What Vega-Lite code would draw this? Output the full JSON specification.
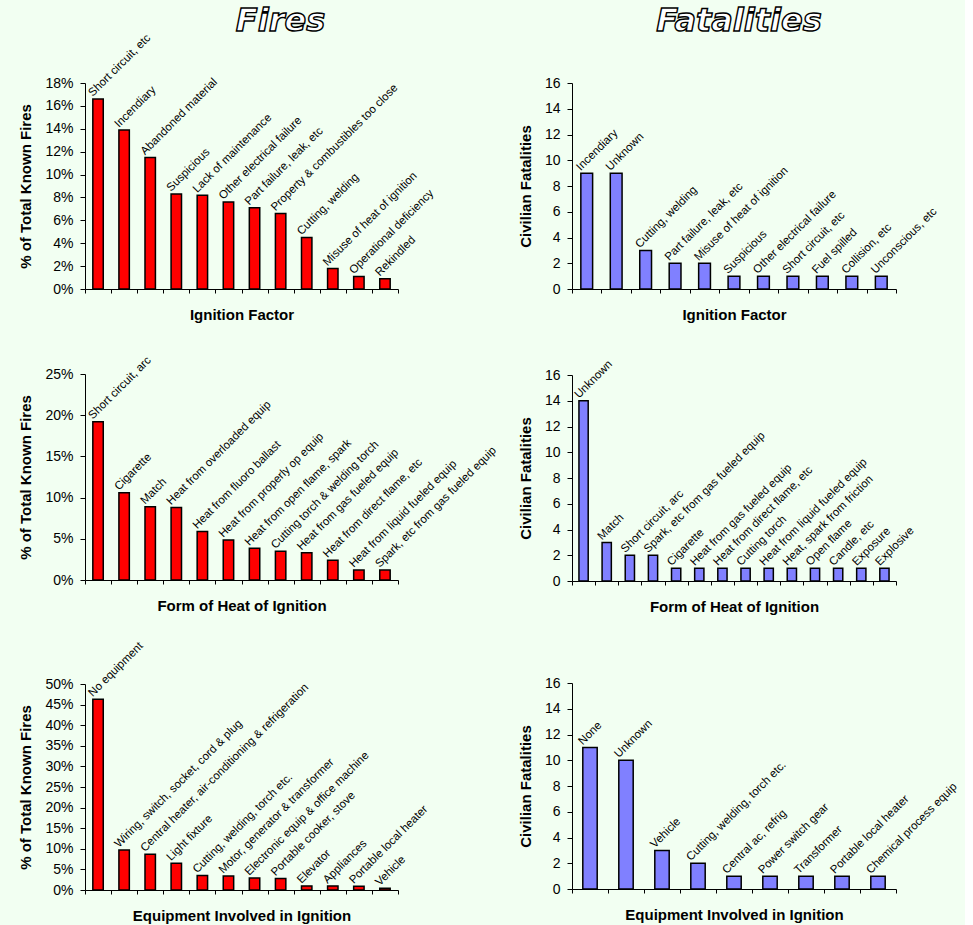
{
  "$schema": "https://vega.github.io/schema/vega-lite/v6.json",
  "background": "#F2FFF2",
  "padding": {"left": 18, "top": 5, "right": 5, "bottom": 5},
  "datasets": {
    "fires_if": [
      {"c": "Short circuit, etc", "v": 0.166},
      {"c": "Incendiary", "v": 0.139},
      {"c": "Abandoned material", "v": 0.115},
      {"c": "Suspicious", "v": 0.083},
      {"c": "Lack of maintenance", "v": 0.082},
      {"c": "Other electrical failure", "v": 0.076},
      {"c": "Part failure, leak, etc", "v": 0.071},
      {"c": "Property & combustibles too close", "v": 0.066},
      {"c": "Cutting, welding", "v": 0.045},
      {"c": "Misuse of heat of ignition", "v": 0.018},
      {"c": "Operational deficiency", "v": 0.011},
      {"c": "Rekindled", "v": 0.009}
    ],
    "fat_if": [
      {"c": "Incendiary", "v": 9},
      {"c": "Unknown", "v": 9},
      {"c": "Cutting, welding", "v": 3},
      {"c": "Part failure, leak, etc", "v": 2},
      {"c": "Misuse of heat of ignition", "v": 2},
      {"c": "Suspicious", "v": 1},
      {"c": "Other electrical failure", "v": 1},
      {"c": "Short circuit, etc", "v": 1},
      {"c": "Fuel spilled", "v": 1},
      {"c": "Collision, etc", "v": 1},
      {"c": "Unconscious, etc", "v": 1}
    ],
    "fires_heat": [
      {"c": "Short circuit, arc", "v": 0.192},
      {"c": "Cigarette", "v": 0.106},
      {"c": "Match", "v": 0.089},
      {"c": "Heat from overloaded equip", "v": 0.088},
      {"c": "Heat from fluoro ballast", "v": 0.059},
      {"c": "Heat from properly op equip", "v": 0.0485},
      {"c": "Heat from open flame, spark", "v": 0.0385},
      {"c": "Cutting torch & welding torch", "v": 0.035},
      {"c": "Heat from gas fueled equip", "v": 0.033},
      {"c": "Heat from direct flame, etc", "v": 0.024},
      {"c": "Heat from liquid fueled equip", "v": 0.012},
      {"c": "Spark, etc from gas fueled equip", "v": 0.012}
    ],
    "fat_heat": [
      {"c": "Unknown", "v": 14},
      {"c": "Match", "v": 3},
      {"c": "Short circuit, arc", "v": 2},
      {"c": "Spark, etc from gas fueled equip", "v": 2},
      {"c": "Cigarette", "v": 1},
      {"c": "Heat from gas fueled equip", "v": 1},
      {"c": "Heat from direct flame, etc", "v": 1},
      {"c": "Cutting torch", "v": 1},
      {"c": "Heat from liquid fueled equip", "v": 1},
      {"c": "Heat, spark from friction", "v": 1},
      {"c": "Open flame", "v": 1},
      {"c": "Candle, etc", "v": 1},
      {"c": "Exposure", "v": 1},
      {"c": "Explosive", "v": 1}
    ],
    "fires_equip": [
      {"c": "No equipment", "v": 0.463},
      {"c": "Wiring, switch, socket, cord & plug", "v": 0.097},
      {"c": "Central heater, air-conditioning & refrigeration", "v": 0.087},
      {"c": "Light fixture", "v": 0.065},
      {"c": "Cutting, welding, torch etc.", "v": 0.035},
      {"c": "Motor, generator & transformer", "v": 0.034},
      {"c": "Electronic equip & office machine", "v": 0.029},
      {"c": "Portable cooker, stove", "v": 0.028},
      {"c": "Elevator", "v": 0.010},
      {"c": "Appliances", "v": 0.010},
      {"c": "Portable local heater", "v": 0.009},
      {"c": "Vehicle", "v": 0.004}
    ],
    "fat_equip": [
      {"c": "None", "v": 11},
      {"c": "Unknown", "v": 10},
      {"c": "Vehicle", "v": 3},
      {"c": "Cutting, welding, torch etc.", "v": 2},
      {"c": "Central ac, refrig", "v": 1},
      {"c": "Power switch gear", "v": 1},
      {"c": "Transformer", "v": 1},
      {"c": "Portable local heater", "v": 1},
      {"c": "Chemical process equip", "v": 1}
    ]
  },
  "hconcat": [
    {
      "vconcat": [
        {
          "title": {"text": "Fires", "color": "#ffffff", "font": "DejaVu Sans", "fontSize": 32, "fontStyle": "italic", "fontWeight": "bold", "style": "outlined", "offset": -6, "dx": 39},
          "width": 313, "height": 206,
          "data": {"name": "fires_if"},
          "encoding": {
            "x": {"field": "c", "type": "nominal", "sort": null, "scale": {"paddingInner": 0, "paddingOuter": 0}, "axis": {"title": "Ignition Factor"}},
            "y": {"field": "v", "type": "quantitative", "scale": {"domain": [0, 0.18]}, "axis": {"title": "% of Total Known Fires", "values": [0, 0.02, 0.04, 0.06, 0.08, 0.1, 0.12, 0.14, 0.16, 0.18], "format": ".0%"}}
          },
          "layer": [
            {"mark": {"type": "bar", "width": {"band": 0.4}, "color": "#FF0000", "stroke": "#000000", "strokeWidth": 1.5}},
            {"mark": {"type": "text", "angle": -45, "align": "left", "baseline": "alphabetic", "yOffset": -2},
             "encoding": {"text": {"field": "c"}, "x": {"field": "c", "type": "nominal", "sort": null, "bandPosition": 0.3, "axis": {"title": "Ignition Factor"}}}}
          ]
        },
        {
          "vconcat": [
            {
              "width": 313, "height": 206,
              "data": {"name": "fires_heat"},
              "encoding": {
                "x": {"field": "c", "type": "nominal", "sort": null, "scale": {"paddingInner": 0, "paddingOuter": 0}, "axis": {"title": "Form of Heat of Ignition"}},
                "y": {"field": "v", "type": "quantitative", "scale": {"domain": [0, 0.25]}, "axis": {"title": "% of Total Known Fires", "values": [0, 0.05, 0.1, 0.15, 0.2, 0.25], "format": ".0%"}}
              },
              "layer": [
                {"mark": {"type": "bar", "width": {"band": 0.4}, "color": "#FF0000", "stroke": "#000000", "strokeWidth": 1.5}},
                {"mark": {"type": "text", "angle": -45, "align": "left", "baseline": "alphabetic", "yOffset": -2},
                 "encoding": {"text": {"field": "c"}, "x": {"field": "c", "type": "nominal", "sort": null, "bandPosition": 0.3, "axis": {"title": "Form of Heat of Ignition"}}}}
              ]
            },
            {
              "width": 313, "height": 206,
              "data": {"name": "fires_equip"},
              "encoding": {
                "x": {"field": "c", "type": "nominal", "sort": null, "scale": {"paddingInner": 0, "paddingOuter": 0}, "axis": {"title": "Equipment Involved in Ignition"}},
                "y": {"field": "v", "type": "quantitative", "scale": {"domain": [0, 0.5]}, "axis": {"title": "% of Total Known Fires", "values": [0, 0.05, 0.1, 0.15, 0.2, 0.25, 0.3, 0.35, 0.4, 0.45, 0.5], "format": ".0%"}}
              },
              "layer": [
                {"mark": {"type": "bar", "width": {"band": 0.4}, "color": "#FF0000", "stroke": "#000000", "strokeWidth": 1.5}},
                {"mark": {"type": "text", "angle": -45, "align": "left", "baseline": "alphabetic", "yOffset": -2},
                 "encoding": {"text": {"field": "c"}, "x": {"field": "c", "type": "nominal", "sort": null, "bandPosition": 0.3, "axis": {"title": "Equipment Involved in Ignition"}}}}
              ]
            }
          ],
          "spacing": 26
        }
      ],
      "spacing": 31
    },
    {
      "vconcat": [
        {
          "title": {"text": "Fatalities", "color": "#ffffff", "font": "DejaVu Sans", "fontSize": 32, "fontStyle": "italic", "fontWeight": "bold", "style": "outlined", "offset": 38, "dx": 5},
          "width": 324, "height": 206,
          "data": {"name": "fat_if"},
          "encoding": {
            "x": {"field": "c", "type": "nominal", "sort": null, "scale": {"paddingInner": 0, "paddingOuter": 0}, "axis": {"title": "Ignition Factor"}},
            "y": {"field": "v", "type": "quantitative", "scale": {"domain": [0, 16]}, "axis": {"title": "Civilian Fatalities", "values": [0, 2, 4, 6, 8, 10, 12, 14, 16]}}
          },
          "layer": [
            {"mark": {"type": "bar", "width": {"band": 0.4}, "color": "#8080FF", "stroke": "#000000", "strokeWidth": 1.5}},
            {"mark": {"type": "text", "angle": -45, "align": "left", "baseline": "alphabetic", "yOffset": -2},
             "encoding": {"text": {"field": "c"}, "x": {"field": "c", "type": "nominal", "sort": null, "bandPosition": 0.3, "axis": {"title": "Ignition Factor"}}}}
          ]
        },
        {
          "vconcat": [
            {
              "width": 324, "height": 206,
              "data": {"name": "fat_heat"},
              "encoding": {
                "x": {"field": "c", "type": "nominal", "sort": null, "scale": {"paddingInner": 0, "paddingOuter": 0}, "axis": {"title": "Form of Heat of Ignition"}},
                "y": {"field": "v", "type": "quantitative", "scale": {"domain": [0, 16]}, "axis": {"title": "Civilian Fatalities", "values": [0, 2, 4, 6, 8, 10, 12, 14, 16]}}
              },
              "layer": [
                {"mark": {"type": "bar", "width": {"band": 0.4}, "color": "#8080FF", "stroke": "#000000", "strokeWidth": 1.5}},
                {"mark": {"type": "text", "angle": -45, "align": "left", "baseline": "alphabetic", "yOffset": -2},
                 "encoding": {"text": {"field": "c"}, "x": {"field": "c", "type": "nominal", "sort": null, "bandPosition": 0.3, "axis": {"title": "Form of Heat of Ignition"}}}}
              ]
            },
            {
              "width": 324, "height": 206,
              "data": {"name": "fat_equip"},
              "encoding": {
                "x": {"field": "c", "type": "nominal", "sort": null, "scale": {"paddingInner": 0, "paddingOuter": 0}, "axis": {"title": "Equipment Involved in Ignition"}},
                "y": {"field": "v", "type": "quantitative", "scale": {"domain": [0, 16]}, "axis": {"title": "Civilian Fatalities", "values": [0, 2, 4, 6, 8, 10, 12, 14, 16]}}
              },
              "layer": [
                {"mark": {"type": "bar", "width": {"band": 0.4}, "color": "#8080FF", "stroke": "#000000", "strokeWidth": 1.5}},
                {"mark": {"type": "text", "angle": -45, "align": "left", "baseline": "alphabetic", "yOffset": -2},
                 "encoding": {"text": {"field": "c"}, "x": {"field": "c", "type": "nominal", "sort": null, "bandPosition": 0.3, "axis": {"title": "Equipment Involved in Ignition"}}}}
              ]
            }
          ],
          "spacing": 61
        }
      ],
      "spacing": 35
    }
  ],
  "spacing": 19,
  "config": {
    "font": "Liberation Sans",
    "view": {"stroke": null},
    "axis": {
      "domainColor": "#000000", "tickColor": "#000000", "labelColor": "#000000", "titleColor": "#000000",
      "labelFont": "Liberation Sans", "titleFont": "Liberation Sans",
      "labelFontSize": 14, "titleFontSize": 15, "titleFontWeight": "bold",
      "grid": false, "tickSize": 5, "domainWidth": 1, "tickWidth": 1
    },
    "axisX": {"labels": false, "tickBand": "extent", "tickSize": 4, "titlePadding": 14},
    "axisY": {"labelPadding": 7, "titlePadding": 11},
    "style": {"outlined": {"stroke": "#000000", "strokeWidth": 1.4}},
    "text": {"font": "Liberation Sans", "fontSize": 11.5, "color": "#000000"}
  }
}
